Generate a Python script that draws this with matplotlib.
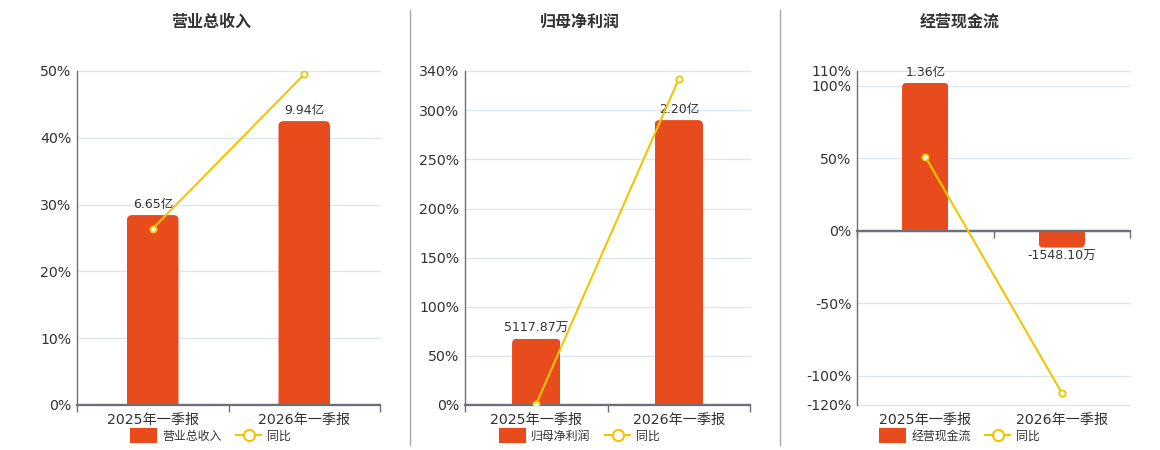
import matplotlib
matplotlib.use('Agg')
import matplotlib.pyplot as plt
from matplotlib.patches import Patch, FancyBboxPatch, Rectangle
from matplotlib.lines import Line2D
from matplotlib.transforms import blended_transform_factory

plt.rcParams['font.family'] = ['DejaVu Sans', 'Noto Sans CJK SC']

# ---------------- data ----------------
categories = ['2025年一季报', '2026年一季报']
titles = ['营业总收入', '归母净利润', '经营现金流']
yoy_name = '同比'

revenue_wan = [66500, 99400]
revenue_labels = ['6.65亿', '9.94亿']
revenue_yoy = [26.4, 49.5]

profit_wan = [5117.87, 22000]
profit_labels = ['5117.87万', '2.20亿']
profit_yoy = [1.2, 331.7]

cashflow_wan = [13600, -1548.10]
cashflow_labels = ['1.36亿', '-1548.10万']
cashflow_yoy = [51.0, -111.6]

pct_ticks_rev = [0, 10, 20, 30, 40, 50]
pct_ticks_profit = [0, 50, 100, 150, 200, 250, 300, 340]
pct_ticks_cash = [-120, -100, -50, 0, 50, 100, 110]

# ---------------- style ----------------
BAR = '#E84B1C'
LINE = '#F2C500'
GRID = '#E0E6F1'
AXC = '#6E7079'
TXT = '#333333'

W, H = 1160, 450
fig = plt.figure(figsize=(W / 100, H / 100), dpi=100)

panels = [
    dict(title=titles[0], bars=revenue_wan, labels=revenue_labels, yoy=revenue_yoy,
         ticks=pct_ticks_rev, x0=77, x1=380, cx=211, bar_top=42.5),
    dict(title=titles[1], bars=profit_wan, labels=profit_labels, yoy=profit_yoy,
         ticks=pct_ticks_profit, x0=465, x1=750, cx=580, bar_top=290.0),
    dict(title=titles[2], bars=cashflow_wan, labels=cashflow_labels, yoy=cashflow_yoy,
         ticks=pct_ticks_cash, x0=857, x1=1130, cx=960, bar_top=101.9),
]

y_top, y_bot = 71, 405
xpos = list(range(len(categories)))
R_PX = 5.0

for p in panels:
    ax_w_px = p['x1'] - p['x0']
    ax_h_px = y_bot - y_top
    rect = [p['x0'] / W, 1 - y_bot / H, ax_w_px / W, ax_h_px / H]
    ax = fig.add_axes(rect)
    lo, hi = min(p['ticks']), max(p['ticks'])
    ax.set_ylim(lo, hi)
    ax.set_xlim(-0.5, len(categories) - 0.5)
    ax.set_yticks(p['ticks'])
    ax.set_yticklabels([f'{t}%' for t in p['ticks']])
    ax.tick_params(axis='y', length=0, labelsize=10.2, labelcolor=TXT, pad=4)
    for t in p['ticks']:
        ax.axhline(t, color=GRID, lw=1, zorder=0, clip_on=False)
    for s in ['top', 'right']:
        ax.spines[s].set_visible(False)
    ax.spines['left'].set_color(AXC)
    ax.spines['left'].set_linewidth(1)
    ax.spines['bottom'].set_position(('data', 0))
    ax.spines['bottom'].set_color(AXC)
    ax.spines['bottom'].set_linewidth(1.6)
    ax.set_xticks([i - 0.5 for i in range(len(categories) + 1)])
    ax.set_xticklabels([])
    ax.tick_params(axis='x', direction='out', length=5, color=AXC, width=1)

    # bars on hidden twin axis
    axb = ax.twinx()
    k = max(abs(v) for v in p['bars']) / p['bar_top']
    ylo, yhi = lo * k, hi * k
    axb.set_ylim(ylo, yhi)
    axb.set_yticks([])
    for s in axb.spines.values():
        s.set_visible(False)
    bars = axb.bar(xpos, p['bars'], width=0.34, color=BAR, zorder=2)
    xr = len(categories)
    r_x = R_PX * xr / ax_w_px
    r_y = R_PX * (yhi - ylo) / ax_h_px
    for b in bars:
        b.set_visible(False)
        bx, bw = b.get_x(), b.get_width()
        by, bh = b.get_y(), b.get_height()
        base = min(by, by + bh)
        top = max(by, by + bh)
        hgt = top - base
        if bh >= 0:
            pb = FancyBboxPatch((bx, base - r_y), bw, hgt + r_y,
                                boxstyle=f'round,pad=0,rounding_size={r_x}',
                                mutation_aspect=r_y / r_x, facecolor=BAR,
                                edgecolor='none', zorder=2)
        else:
            pb = FancyBboxPatch((bx, base), bw, hgt + r_y,
                                boxstyle=f'round,pad=0,rounding_size={r_x}',
                                mutation_aspect=r_y / r_x, facecolor=BAR,
                                edgecolor='none', zorder=2)
        axb.add_patch(pb)
        clip = Rectangle((bx, base), bw, hgt, transform=axb.transData)
        pb.set_clip_path(clip)
    for b, lab, v in zip(bars, p['labels'], p['bars']):
        if v >= 0:
            axb.annotate(lab, (b.get_x() + b.get_width() / 2, v), xytext=(0, 3),
                         textcoords='offset points', ha='center', va='bottom',
                         fontsize=9, color=TXT)
        else:
            axb.annotate(lab, (b.get_x() + b.get_width() / 2, v), xytext=(0, -2),
                         textcoords='offset points', ha='center', va='top',
                         fontsize=9, color=TXT)

    # line on hidden twin axis
    axl = ax.twinx()
    axl.set_ylim(lo, hi)
    axl.set_yticks([])
    for s in axl.spines.values():
        s.set_visible(False)
    axl.axhline(0, color=AXC, lw=1.6, zorder=1)
    axl.plot(xpos, p['yoy'], color=LINE, lw=1.5, marker='o', markersize=4.5,
             markerfacecolor='white', markeredgecolor=LINE, markeredgewidth=1.3, zorder=3)

    # category labels at bottom
    tr = blended_transform_factory(ax.transData, ax.transAxes)
    for i, c in enumerate(categories):
        ax.text(i, -(420 - y_bot) / ax_h_px, c, transform=tr, ha='center',
                va='center', fontsize=10.2, color=TXT)

    # title
    fig.text(p['cx'] / W, 1 - 22 / H, p['title'], ha='center', va='center',
             fontsize=11.5, fontweight='bold', color=TXT)

    # legend
    handles = [Patch(facecolor=BAR, edgecolor=BAR, joinstyle='round', linewidth=1.5),
               Line2D([0], [0], color=LINE, lw=1.5, marker='o', markersize=8,
                      markerfacecolor='white', markeredgecolor=LINE, markeredgewidth=1.5)]
    fig.legend(handles, [p['title'], yoy_name], loc='center',
               bbox_to_anchor=(p['cx'] / W, 1 - 436 / H), ncol=2, frameon=False,
               fontsize=8.6, handlelength=2.1, handleheight=1.2, columnspacing=1.2,
               handletextpad=0.5, labelcolor=TXT)

# separators
for xs in [410, 780]:
    fig.add_artist(Line2D([xs / W, xs / W], [1 - 445 / H, 1 - 10 / H],
                          color='#AAAAAA', lw=1, transform=fig.transFigure))

fig.savefig('out.png', dpi=100)
